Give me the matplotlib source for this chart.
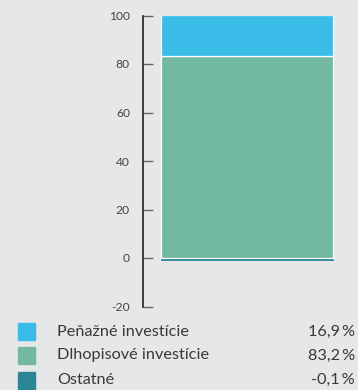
import matplotlib
matplotlib.use('Agg')
import matplotlib.pyplot as plt
from matplotlib.patches import Rectangle

# data
labels = ['Peňažné investície', 'Dlhopisové investície', 'Ostatné']
values = [16.9, 83.2, -0.1]
value_text = ['16,9\u2009%', '83,2\u2009%', '-0,1\u2009%']
colors = ['#3bbce8', '#72b8a2', '#2b8597']
yticks = [-20, 0, 20, 40, 60, 80, 100]

bg = '#e6e7e9'
plt.rcParams['font.family'] = ['Lato', 'DejaVu Sans']

fig = plt.figure(figsize=(3.58, 3.90), dpi=100, facecolor=bg)
ax = fig.add_axes([142.5/358, 1 - 306.5/390, 202/358, 291/390], facecolor=bg)

# stacked bar: positives stack from green (bottom) upward, negatives go below 0
green = values[1]
blue = values[0]
ax.bar(0, green, width=0.8, bottom=0, color=colors[1], edgecolor='white', linewidth=0.9)
ax.bar(0, blue, width=0.8, bottom=green, color=colors[0], edgecolor='white', linewidth=0.9)
ax.bar(0, values[2], width=0.8, bottom=-0.55, color=colors[2], edgecolor=colors[2], linewidth=0.6)

ax.set_xlim(-0.485, 0.455)
ax.set_ylim(-20, 100)
ax.set_yticks(yticks)
ax.set_yticklabels([str(t) for t in yticks])
ax.set_xticks([])
for s in ['top', 'right', 'bottom']:
    ax.spines[s].set_visible(False)
ax.spines['left'].set_color('#222222')
ax.spines['left'].set_linewidth(1.2)
ax.tick_params(axis='y', direction='in', length=7, width=1, color='#666666',
               labelcolor='#444444', labelsize=8.7, pad=9)

# legend rows
row_y = [331.5, 355.5, 380]
for i in range(len(labels)):
    yc = 1 - row_y[i] / 390
    fig.patches.append(Rectangle((17.5/358, yc - 8.5/390), 17.5/358, 17/390,
                                 transform=fig.transFigure, color=colors[i]))
    fig.text(57/358, yc, labels[i], ha='left', va='center', fontsize=11.7,
             color='#383838')
    fig.text(355/358, yc, value_text[i], ha='right', va='center', fontsize=11.7,
             color='#383838')

fig.savefig('out.png', dpi=100, facecolor=bg)
